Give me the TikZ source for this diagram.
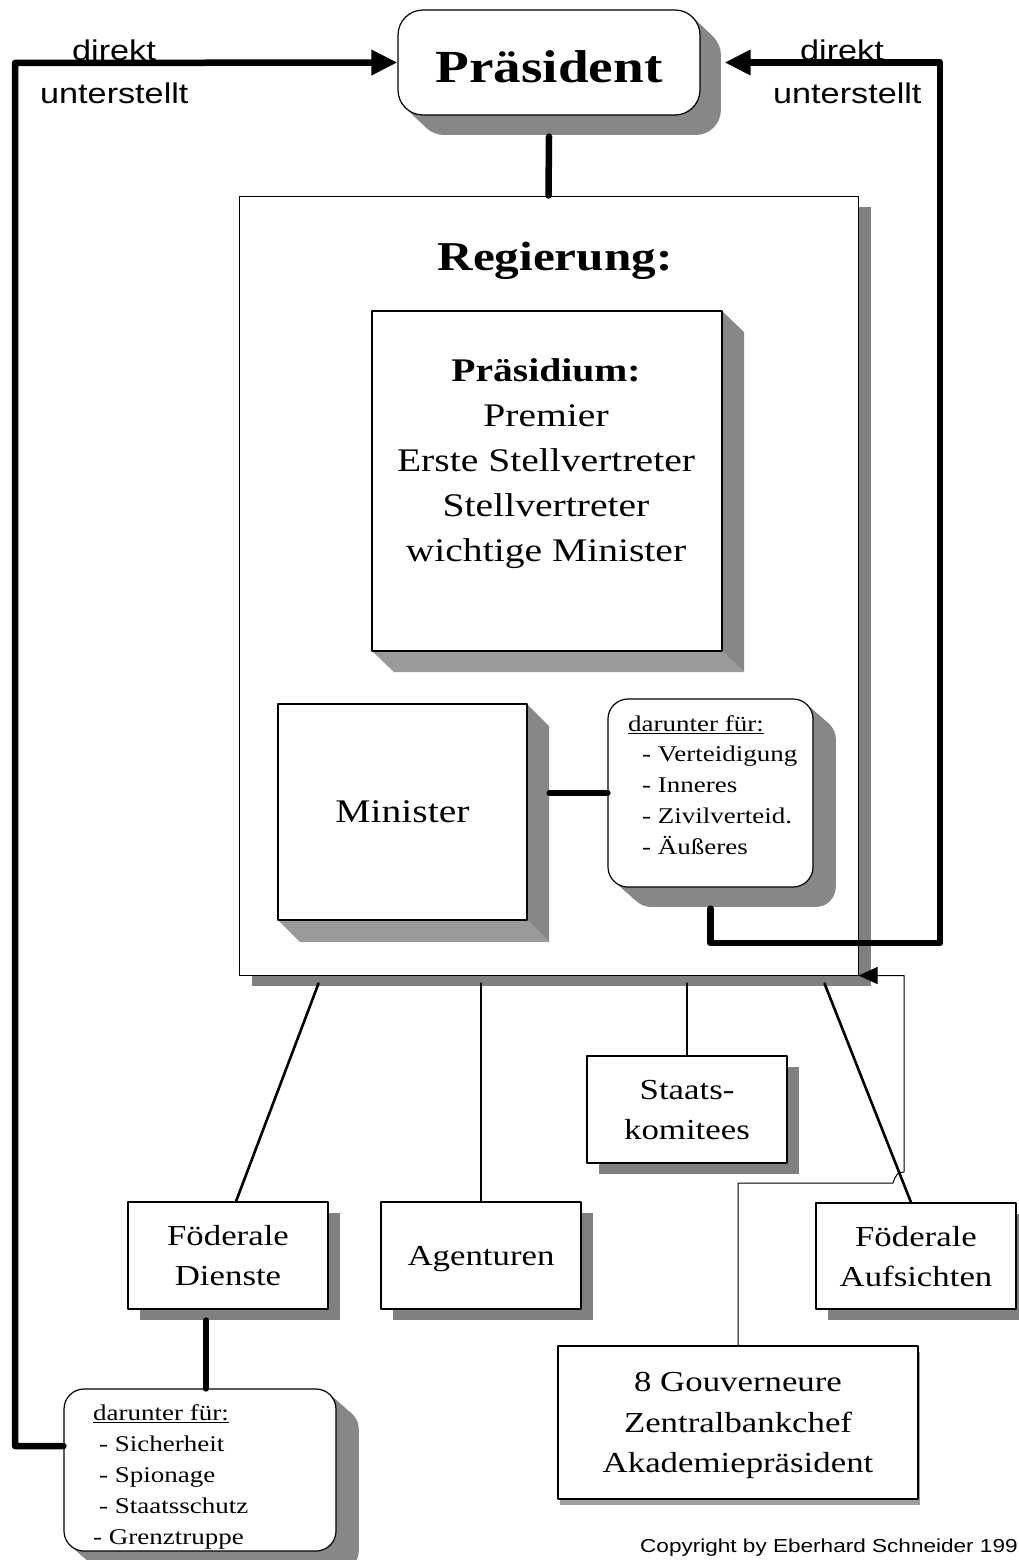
\documentclass[tikz,border=0pt]{standalone}
\usepackage{fontspec}
\setmainfont{Liberation Serif}[FakeStretch=1.2]
\newfontfamily\labelfont{Liberation Sans}[FakeStretch=1.2]
\usetikzlibrary{arrows.meta,shadows,fit}
\definecolor{sideface}{RGB}{135,135,135}
\definecolor{baseface}{RGB}{154,154,154}
\definecolor{shadowgray}{RGB}{128,128,128}
\definecolor{lightshadow}{RGB}{160,160,160}
\newcommand{\blockshade}[6]{%
  \fill[sideface] (#3,#2) -- ++(#5,#6) -- (#3+#5,#4+#6) -- (#3,#4) -- cycle;
  \fill[baseface] (#1,#4) -- ++(#5,#6) -- (#3+#5,#4+#6) -- (#3,#4) -- cycle;}
\newcommand{\roundshade}[7]{%
  \foreach \k in {0,0.05,...,1}
    \fill[sideface, rounded corners=#7] (#1+\k*#5,#2+\k*#6) rectangle (#3+\k*#5,#4+\k*#6);}
\tikzset{
  box/.style={draw, fill=white, line width=1.2pt, inner sep=0pt},
  flatshadow/.style={copy shadow={shadow xshift=12pt, shadow yshift=-11pt, fill=shadowgray, draw=none}},
  lowbox/.style={box, flatshadow, align=center, text depth=0pt, minimum width=200pt, minimum height=107pt,
    font=\fontsize{29}{40}\selectfont},
  listline/.style={anchor=base west, inner sep=0pt, font=\fontsize{22.5}{31}\selectfont},
  sidelabel/.style={anchor=base west, inner sep=0pt, font=\labelfont\fontsize{28.5}{34}\selectfont},
  link/.style={line width=2.6pt},
  heavylink/.style={line width=6.5pt},
  bigtip/.style={-{Triangle[length=26pt,width=24pt]}}
}
\begin{document}
\begin{tikzpicture}[x=1pt, y=-1pt, line join=round, line cap=round]
\useasboundingbox (0,0) rectangle (1018,1560);

\roundshade{398}{10}{700}{115}{22}{21}{25pt}
\node[box, rounded corners=25pt, fit={(398,10) (700,115)}] (praesident) {};
\node[anchor=base, inner sep=0pt, font=\bfseries\fontsize{46}{50}\selectfont] (praesTitel) at (549,83) {Präsident};

\node[box, line width=1pt, copy shadow={shadow xshift=13pt, shadow yshift=-11pt, fill=shadowgray, draw=none},
  fit={(239,196) (858,975)}] (regierung) {};
\node[anchor=base, inner sep=0pt, font=\bfseries\fontsize{41}{46}\selectfont] (regTitel) at (555,270) {Regierung:};

\blockshade{372}{311}{722}{651}{22}{21}
\node[box, fit={(372,311) (722,651)}] (praesidium) {};
\node[anchor=north, align=center, inner sep=0pt, font=\fontsize{33}{45}\selectfont] (praesListe) at (546,358.5)
  {\textbf{Präsidium:}\\Premier\\Erste Stellvertreter\\Stellvertreter\\wichtige Minister};

\blockshade{278}{704}{527}{920}{22}{22}
\node[box, text depth=0pt, minimum width=249pt, minimum height=216pt, font=\fontsize{33}{40}\selectfont]
  (minister) at (402.5,812) {Minister};

\roundshade{608}{699}{813}{887}{24}{21}{20pt}
\node[box, rounded corners=20pt, fit={(608,699) (813,887)}] (ressorts) {};
\node[listline] (ressTitel) at (628,731) {\underline{darunter für:}};
\foreach \t [count=\i from 0] in {Verteidigung, Inneres, Zivilverteid., Äußeres}
  \node[listline] (ress\i) at (642,761+31.3*\i) {- \t};

\node[lowbox] (dienste) at (228,1255.5) {Föderale\\Dienste};
\node[lowbox] (agenturen) at (481,1255.5) {Agenturen};
\node[lowbox] (komitees) at (687,1109.5) {Staats-\\komitees};
\node[lowbox, minimum height=106pt] (aufsichten) at (916,1256) {Föderale\\Aufsichten};
\node[box, align=center, text depth=0pt, minimum width=360pt, minimum height=153pt, font=\fontsize{29}{40.5}\selectfont,
  copy shadow={shadow xshift=2pt, shadow yshift=-6pt, fill=lightshadow, draw=none}] (gouverneure) at (738,1422.5)
  {8 Gouverneure\\Zentralbankchef\\Akademiepräsident};

\roundshade{64}{1389}{336}{1551}{24}{21}{20pt}
\node[box, rounded corners=20pt, fit={(64,1389) (336,1551)}] (dienstzweige) {};
\node[listline] (dzTitel) at (93,1420) {\underline{darunter für:}};
\foreach \t [count=\i from 0] in {Sicherheit, Spionage, Staatsschutz}
  \node[listline] (dz\i) at (99,1451+31*\i) {- \t};
\node[listline] (dz3) at (93,1544) {- Grenztruppe};

\node[sidelabel] (lDirekt) at (72,61) {direkt};
\node[sidelabel] (lUnter) at (40,104) {unterstellt};
\node[sidelabel] (rDirekt) at (800,61) {direkt};
\node[sidelabel] (rUnter) at (773,104) {unterstellt};
\node[anchor=base west, inner sep=0pt, font=\labelfont\fontsize{18.8}{22}\selectfont] (copyright) at (640,1552)
  {Copyright by Eberhard Schneider 199};

\coordinate (regFuss) at ([yshift=-8pt]regierung.south);
\coordinate (minSeite) at ([xshift=22pt]minister.east);
\coordinate (linksSchiene) at (15,63);
\coordinate (rechtsSchiene) at (940,943);
\coordinate (sprungA) at (893,1183);
\coordinate (sprungB) at (904,1172);

\draw[heavylink] (regierung.north) -- ([yshift=-21pt]praesident.south);
\draw[heavylink] (ressorts.west) -- (ressorts.west -| minSeite);
\draw[heavylink, bigtip] ([yshift=-21pt]ressorts.south) |- (rechtsSchiene) |- ([xshift=24pt]praesident.east);
\draw[heavylink, bigtip] ([yshift=24pt]dienstzweige.west) -| (linksSchiene) -- (praesident.west);
\draw[heavylink] ([xshift=6pt]dienstzweige.north) -- ([xshift=-22pt,yshift=-11pt]dienste.south);
\draw[link] ([xshift=80pt,yshift=-8pt]regierung.south west) -- ([xshift=8pt]dienste.north);
\draw[link] (agenturen.north) -- (agenturen.north |- regFuss);
\draw[link] (komitees.north) -- (komitees.north |- regFuss);
\draw[link] ([xshift=-34pt,yshift=-8pt]regierung.south east) -- ([xshift=-5pt]aufsichten.north);
\draw[line width=1pt, -{Triangle[length=19pt,width=17pt]}] (gouverneure.north) |- (sprungA)
  .. controls +(3,-9) and +(-6,0) .. (sprungB) |- (regierung.south east);
\end{tikzpicture}
\end{document}
